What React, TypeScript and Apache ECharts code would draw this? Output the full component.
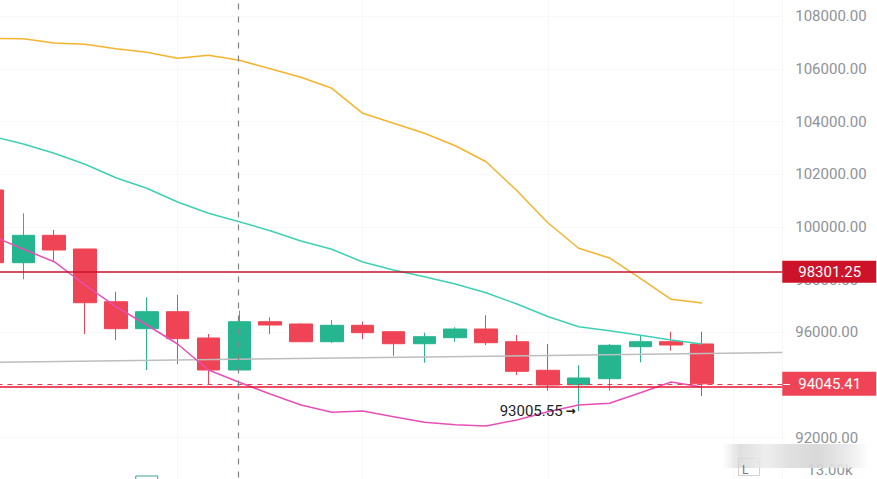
import { useEffect, useRef } from 'react';
import * as echarts from 'echarts';

const UP = '#26b68f';
const DOWN = '#ef4455';

// open, close, low, high
const candles = [
  [101400, 98641, 98400, 101700],
  [98641, 99681, 98011, 100516],
  [99681, 99123, 98706, 99882],
  [99161, 97123, 95935, 99161],
  [97161, 96137, 95708, 97541],
  [96137, 96782, 94569, 97328],
  [96782, 95757, 94797, 97416],
  [95784, 94569, 94038, 95935],
  [94569, 96402, 94569, 96820],
  [96402, 96277, 95935, 96569],
  [96315, 95643, 95643, 96340],
  [95643, 96266, 95594, 96467],
  [96266, 95985, 95734, 96402],
  [96023, 95567, 95112, 96023],
  [95567, 95833, 94846, 95985],
  [95795, 96125, 95643, 96190],
  [96125, 95605, 95518, 96645],
  [95643, 94520, 94379, 95897],
  [94558, 94000, 93784, 95556],
  [94011, 94266, 93005.55, 94748],
  [94239, 95507, 93784, 95556],
  [95453, 95643, 94861, 95860],
  [95643, 95518, 95302, 96023],
  [95556, 94045.41, 93583, 96023],
];
const maOrange = [
  107157, 107142, 106979, 106929, 106763, 106626, 106398, 106512, 106322, 106004, 105677, 105260,
  104311, 103931, 103552, 103081, 102474, 101374, 100159, 99188, 98820, 98049, 97252, 97112,
];
const maTeal = [
  103431, 103146, 102793, 102376, 101867, 101465, 100945, 100516, 100197, 99856, 99465, 99150,
  98668, 98364, 98110, 97833, 97503, 97074, 96600, 96212, 96061, 95886, 95708, 95556,
];
const maPink = [
  99655, 99150, 98679, 97795, 96971, 96277, 95556, 94569, 94102, 93658, 93241, 92964,
  93013, 92797, 92584, 92493, 92444, 92672, 92987, 93241, 93305, 93708, 94114, 93924,
];
const trendLine = [
  [0, 94858],
  [25.6, 95233],
];
const volumes = [[5, 11980]];
const hiddenTicks = [90000, 94000, 110000];
const highLine = 98301.25;
const lastPrice = 94045.41;
const lowLine = 93924;
const lowestPrice = 93005.55;
const crosshairIndex = 7.97;

const withIndex = (values: number[]) => values.map((v, i) => [i, v]);

export default function App() {
  const chartRef = useRef<HTMLDivElement>(null);

  useEffect(() => {
    if (!chartRef.current) return;
    const chart = echarts.init(chartRef.current, undefined, { renderer: 'svg' });

    const lineSeries = (data: number[][], color: string) => ({
      type: 'line',
      data,
      symbol: 'none',
      silent: true,
      lineStyle: { color, width: 1.5 },
    });

    const boxLabel = (text: string, bg: string, padding: number[]) => ({
      show: true,
      position: 'end',
      distance: 0,
      formatter: text,
      color: '#fff',
      fontSize: 15,
      lineHeight: 14,
      backgroundColor: bg,
      padding,
    });

    chart.setOption({
      animation: false,
      backgroundColor: '#fff',
      textStyle: { fontFamily: 'Roboto, sans-serif' },
      grid: [
        { left: -192.6, right: 94.74, top: -36.6, bottom: -11.4, containLabel: false, outerBoundsMode: 'none' },
        { left: -192.6, right: 94.74, top: 470, bottom: -61, containLabel: false, outerBoundsMode: 'none' },
      ],
      xAxis: [0, 1].map((gridIndex) => ({
        type: 'value',
        gridIndex,
        min: -6,
        max: 25.6,
        interval: 6,
        axisLine: { show: false },
        axisTick: { show: false },
        axisLabel: { show: false },
        splitLine: { show: gridIndex === 0, lineStyle: { color: '#f7f7f7', width: 1 } },
      })),
      yAxis: [
        {
          type: 'value',
          position: 'right',
          min: 90000,
          max: 110000,
          interval: 2000,
          axisLine: { show: false },
          axisTick: { show: false },
          axisLabel: {
            color: '#8e929b',
            fontSize: 15,
            margin: 13,
            formatter: (v: number) => (hiddenTicks.includes(v) ? '' : v.toFixed(2)),
          },
          splitLine: { lineStyle: { color: '#f8f8f8', width: 1 } },
        },
        {
          type: 'value',
          gridIndex: 1,
          position: 'right',
          min: 0,
          max: 13000,
          interval: 13000,
          axisLine: { show: false },
          axisTick: { show: false },
          axisLabel: {
            color: '#8e929b',
            fontSize: 15,
            margin: 25,
            formatter: (v: number) => (v ? `${(v / 1000).toFixed(2)}k` : ''),
          },
          splitLine: { show: false },
        },
      ],
      series: [
        {
          type: 'candlestick',
          data: candles.map((c, i) => [i, ...c]),
          barWidth: 23,
          silent: true,
          itemStyle: { color: UP, color0: DOWN, borderColor: UP, borderColor0: DOWN, borderWidth: 1 },
          markLine: {
            silent: true,
            symbol: 'none',
            animation: false,
            precision: 2,
            label: { show: false },
            data: [
              {
                yAxis: highLine,
                lineStyle: { color: '#c8102e', width: 1.5, type: 'solid' },
                label: boxLabel(highLine.toFixed(2), '#cd1329', [6, 15, 2, 16]),
              },
              {
                yAxis: lastPrice,
                lineStyle: { color: '#e8404f', width: 1, type: [5, 5] },
                label: boxLabel(lastPrice.toFixed(2), '#ef4455', [5, 15, 5, 16]),
              },
              { yAxis: lowLine, lineStyle: { color: '#e8132f', width: 1.5, type: 'solid' } },
              { xAxis: crosshairIndex, lineStyle: { color: '#80838a', width: 1.2, type: [6, 7] } },
            ],
          },
          markPoint: {
            silent: true,
            symbolSize: 0,
            data: [
              {
                coord: [19, lowestPrice],
                label: {
                  show: true,
                  position: 'left',
                  distance: 3,
                  formatter: `{a|${lowestPrice}} {b|→}`,
                  rich: {
                    a: { color: '#222', fontSize: 15 },
                    b: { color: '#222', fontSize: 12, fontFamily: 'DejaVu Sans', fontWeight: 'bold' },
                  },
                },
              },
            ],
          },
        },
        lineSeries(trendLine, '#bdbdbd'),
        lineSeries(withIndex(maOrange), '#f5b32e'),
        lineSeries(withIndex(maTeal), '#3fd0b4'),
        lineSeries(withIndex(maPink), '#e84fb6'),
        {
          type: 'bar',
          xAxisIndex: 1,
          yAxisIndex: 1,
          data: volumes,
          barWidth: 23,
          silent: true,
          itemStyle: { color: '#fff', borderColor: '#3aa58c', borderWidth: 1 },
        },
      ],
      graphic: [
        {
          type: 'rect',
          z: 99,
          silent: true,
          shape: { x: 738.5, y: 458.5, width: 21, height: 17 },
          style: { fill: '#fff', stroke: '#d0d0d0', lineWidth: 1 },
        },
        {
          type: 'rect',
          z: 100,
          silent: true,
          shape: { x: 722, y: 444, width: 146, height: 24 },
          style: {
            fill: {
              type: 'linear',
              x: 0,
              y: 0,
              x2: 1,
              y2: 0,
              colorStops: [
                { offset: 0, color: 'rgba(225,225,225,0)' },
                { offset: 0.12, color: 'rgba(215,215,215,0.8)' },
                { offset: 0.3, color: 'rgba(235,235,235,0.85)' },
                { offset: 0.45, color: 'rgba(222,222,222,0.9)' },
                { offset: 0.65, color: 'rgba(212,212,212,0.9)' },
                { offset: 0.85, color: 'rgba(232,232,232,0.9)' },
                { offset: 1, color: 'rgba(225,225,225,0)' },
              ],
            },
          },
        },
        {
          type: 'text',
          z: 102,
          silent: true,
          x: 742,
          y: 464,
          style: { text: 'L', fill: '#777', fontSize: 12, fontFamily: 'Roboto, sans-serif' },
        },
        {
          type: 'line',
          z: 102,
          silent: true,
          shape: { x1: 783, y1: 384.5, x2: 790, y2: 384.5 },
          style: { stroke: '#fff', lineWidth: 1 },
        },
      ],
    });

    return () => {
      chart.dispose();
    };
  }, []);

  return <div ref={chartRef} style={{ position: 'fixed', left: 0, top: 0, width: 877, height: 479 }} />;
}
